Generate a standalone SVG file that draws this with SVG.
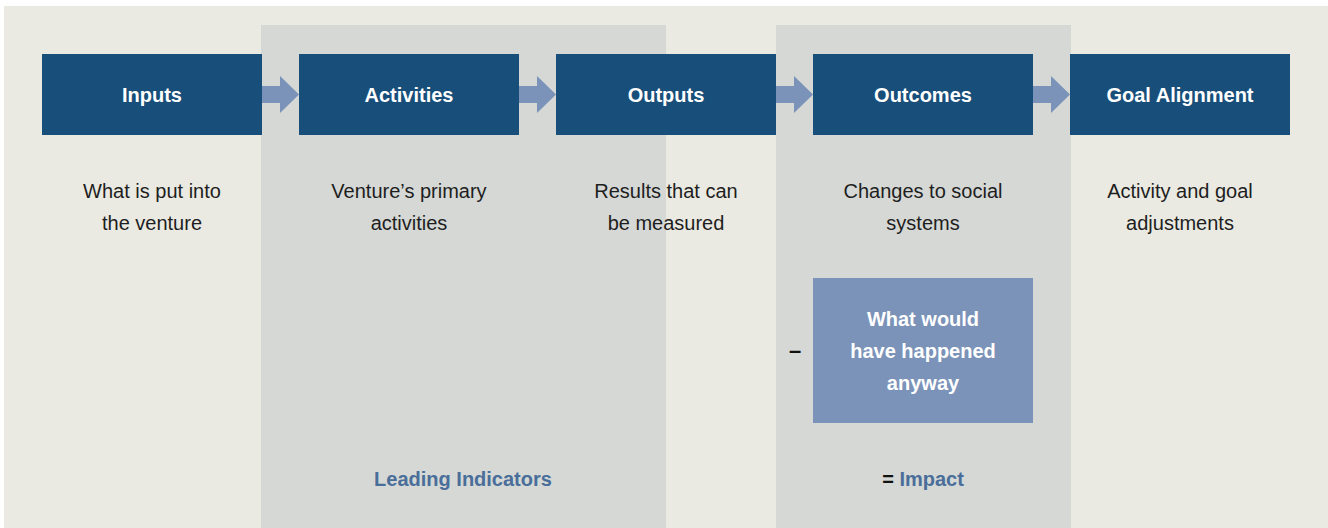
<svg xmlns="http://www.w3.org/2000/svg" width="1328" height="528" viewBox="0 0 1328 528">
<style>
.box{fill:#184E7A}
.lbl{font-family:"Liberation Sans",Arial,sans-serif;font-size:20px;font-weight:bold;fill:#ffffff;text-anchor:middle}
.desc{font-family:"Liberation Sans",Arial,sans-serif;font-size:20px;fill:#1e1e1e;text-anchor:middle}
.arrow{fill:#7B93B8}
.col{fill:#D5D8D5}
.blue{font-family:"Liberation Sans",Arial,sans-serif;font-size:20px;font-weight:bold;fill:#4A6E9A;text-anchor:middle}
</style>
<defs>
<path id="arr" d="M0,-8.5 H18 V-18.5 L37,0 L18,18.5 V8.5 H0 Z"/>
</defs>
<rect x="0" y="0" width="1328" height="528" fill="#ffffff"/>
<rect x="4" y="6" width="1324" height="522" fill="#EAEAE2"/>
<rect class="col" x="261" y="25" width="405" height="503"/>
<rect class="col" x="776" y="25" width="295" height="503"/>
<g id="connectors" class="arrow">
<use href="#arr" x="262" y="94.5"/>
<use href="#arr" x="519" y="94.5"/>
<use href="#arr" x="776" y="94.5"/>
<use href="#arr" x="1033" y="94.5"/>
</g>
<g id="inputs">
<rect class="box" x="42" y="54" width="220" height="81"/>
<text class="lbl" x="152" y="101.5">Inputs</text>
<text class="desc" x="152" y="198">What is put into</text>
<text class="desc" x="152" y="230">the venture</text>
</g>
<g id="activities">
<rect class="box" x="299" y="54" width="220" height="81"/>
<text class="lbl" x="409" y="101.5">Activities</text>
<text class="desc" x="409" y="198">Venture’s primary</text>
<text class="desc" x="409" y="230">activities</text>
</g>
<g id="outputs">
<rect class="box" x="556" y="54" width="220" height="81"/>
<text class="lbl" x="666" y="101.5">Outputs</text>
<text class="desc" x="666" y="198">Results that can</text>
<text class="desc" x="666" y="230">be measured</text>
</g>
<g id="outcomes">
<rect class="box" x="813" y="54" width="220" height="81"/>
<text class="lbl" x="923" y="101.5">Outcomes</text>
<text class="desc" x="923" y="198">Changes to social</text>
<text class="desc" x="923" y="230">systems</text>
</g>
<g id="goal">
<rect class="box" x="1070" y="54" width="220" height="81"/>
<text class="lbl" x="1180" y="101.5">Goal Alignment</text>
<text class="desc" x="1180" y="198">Activity and goal</text>
<text class="desc" x="1180" y="230">adjustments</text>
</g>
<g id="counterfactual">
<rect x="813" y="278" width="220" height="145" fill="#7B93B8"/>
<text class="lbl" x="923" y="326">What would</text>
<text class="lbl" x="923" y="358">have happened</text>
<text class="lbl" x="923" y="390">anyway</text>
<text class="desc" x="795" y="358" style="font-weight:bold;font-size:22px;fill:#111">–</text>
</g>
<g id="leading">
<text class="blue" x="463" y="486">Leading Indicators</text>
</g>
<g id="impact">
<text class="blue" x="923" y="486"><tspan style="fill:#111">=</tspan> Impact</text>
</g>
</svg>
